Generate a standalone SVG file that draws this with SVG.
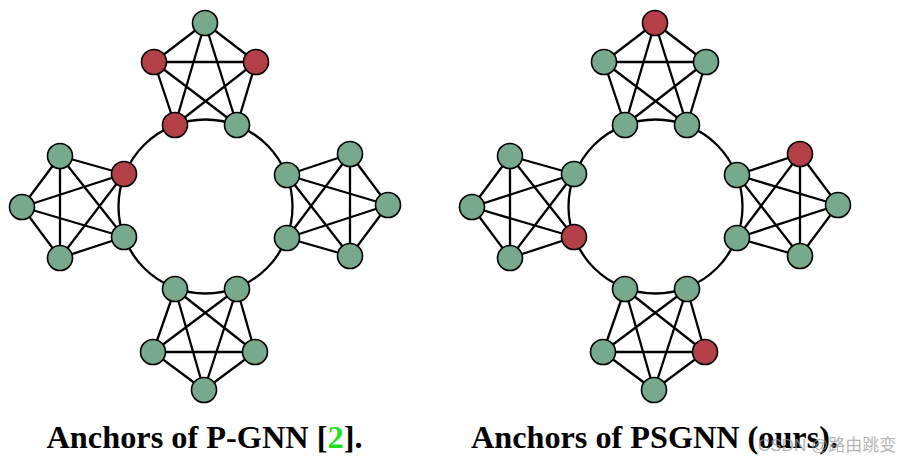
<svg xmlns="http://www.w3.org/2000/svg" width="910" height="466" viewBox="0 0 910 466">
<style>
.e{stroke:#000;stroke-width:2.3;fill:none;stroke-linecap:round}
.g{fill:#77a98c;stroke:#000;stroke-width:1.6}
.r{fill:#b33f47;stroke:#000;stroke-width:1.6}
.t{font-family:"Liberation Serif","Times New Roman",serif;font-weight:bold;font-size:32px;fill:#000}
.wm{font-family:"Liberation Sans","Noto Sans CJK SC",sans-serif;font-size:17px;fill:#9a9a9a;fill-opacity:0.75}
</style>
<defs>
<g id="edges">
<circle class="e" cx="205.5" cy="206.5" r="87"/>
<path class="e" d="M205,23L154,62M205,23L256,62M205,23L175,125M205,23L237,125M154,62L256,62M154,62L175,125M154,62L237,125M256,62L175,125M256,62L237,125"/>
<path class="e" d="M60,156L22,207M60,156L60,258M60,156L124,174M60,156L124,237M22,207L60,258M22,207L124,174M22,207L124,237M60,258L124,174M60,258L124,237"/>
<path class="e" d="M350,154L388,205M350,154L350,256M350,154L287,175M350,154L287,238M388,205L350,256M388,205L287,175M388,205L287,238M350,256L287,175M350,256L287,238"/>
<path class="e" d="M204,390L153,352M204,390L255,352M204,390L175,289M204,390L237,289M153,352L255,352M153,352L175,289M153,352L237,289M255,352L175,289M255,352L237,289"/>
</g>
</defs>
<g id="connectors">
<use href="#edges"/>
<use href="#edges" x="450"/>
</g>
<g id="pgnn">
<g id="a-top-t"><circle class="g" cx="205" cy="23" r="12.5"/></g>
<g id="a-top-l"><circle class="r" cx="154" cy="62" r="12.5"/></g>
<g id="a-top-r"><circle class="r" cx="256" cy="62" r="12.5"/></g>
<g id="a-top-bl"><circle class="r" cx="175" cy="125" r="12.5"/></g>
<g id="a-top-br"><circle class="g" cx="237" cy="125" r="12.5"/></g>
<g id="a-left-t"><circle class="g" cx="60" cy="156" r="12.5"/></g>
<g id="a-left-l"><circle class="g" cx="22" cy="207" r="12.5"/></g>
<g id="a-left-b"><circle class="g" cx="60" cy="258" r="12.5"/></g>
<g id="a-left-ur"><circle class="r" cx="124" cy="174" r="12.5"/></g>
<g id="a-left-lr"><circle class="g" cx="124" cy="237" r="12.5"/></g>
<g id="a-right-ul"><circle class="g" cx="287" cy="175" r="12.5"/></g>
<g id="a-right-ll"><circle class="g" cx="287" cy="238" r="12.5"/></g>
<g id="a-right-t"><circle class="g" cx="350" cy="154" r="12.5"/></g>
<g id="a-right-r"><circle class="g" cx="388" cy="205" r="12.5"/></g>
<g id="a-right-b"><circle class="g" cx="350" cy="256" r="12.5"/></g>
<g id="a-bot-tl"><circle class="g" cx="175" cy="289" r="12.5"/></g>
<g id="a-bot-tr"><circle class="g" cx="237" cy="289" r="12.5"/></g>
<g id="a-bot-l"><circle class="g" cx="153" cy="352" r="12.5"/></g>
<g id="a-bot-r"><circle class="g" cx="255" cy="352" r="12.5"/></g>
<g id="a-bot-b"><circle class="g" cx="204" cy="390" r="12.5"/></g>
</g>
<g id="psgnn">
<g id="b-top-t"><circle class="r" cx="655" cy="23" r="12.5"/></g>
<g id="b-top-l"><circle class="g" cx="604" cy="62" r="12.5"/></g>
<g id="b-top-r"><circle class="g" cx="706" cy="62" r="12.5"/></g>
<g id="b-top-bl"><circle class="g" cx="625" cy="125" r="12.5"/></g>
<g id="b-top-br"><circle class="g" cx="687" cy="125" r="12.5"/></g>
<g id="b-left-t"><circle class="g" cx="510" cy="156" r="12.5"/></g>
<g id="b-left-l"><circle class="g" cx="472" cy="207" r="12.5"/></g>
<g id="b-left-b"><circle class="g" cx="510" cy="258" r="12.5"/></g>
<g id="b-left-ur"><circle class="g" cx="574" cy="174" r="12.5"/></g>
<g id="b-left-lr"><circle class="r" cx="574" cy="237" r="12.5"/></g>
<g id="b-right-ul"><circle class="g" cx="737" cy="175" r="12.5"/></g>
<g id="b-right-ll"><circle class="g" cx="737" cy="238" r="12.5"/></g>
<g id="b-right-t"><circle class="r" cx="800" cy="154" r="12.5"/></g>
<g id="b-right-r"><circle class="g" cx="838" cy="205" r="12.5"/></g>
<g id="b-right-b"><circle class="g" cx="800" cy="256" r="12.5"/></g>
<g id="b-bot-tl"><circle class="g" cx="625" cy="289" r="12.5"/></g>
<g id="b-bot-tr"><circle class="g" cx="687" cy="289" r="12.5"/></g>
<g id="b-bot-l"><circle class="g" cx="603" cy="352" r="12.5"/></g>
<g id="b-bot-r"><circle class="r" cx="705" cy="352" r="12.5"/></g>
<g id="b-bot-b"><circle class="g" cx="654" cy="390" r="12.5"/></g>
</g>
<g id="captions">
<text class="t" x="46.5" y="448" textLength="316" lengthAdjust="spacingAndGlyphs">Anchors of P-GNN [<tspan fill="#1fe01f">2</tspan>].</text>
<text class="t" x="471" y="448" textLength="367" lengthAdjust="spacingAndGlyphs">Anchors of PSGNN (ours).</text>
<text class="wm" x="758" y="451">CSDN @路由跳变</text>
</g>
</svg>
